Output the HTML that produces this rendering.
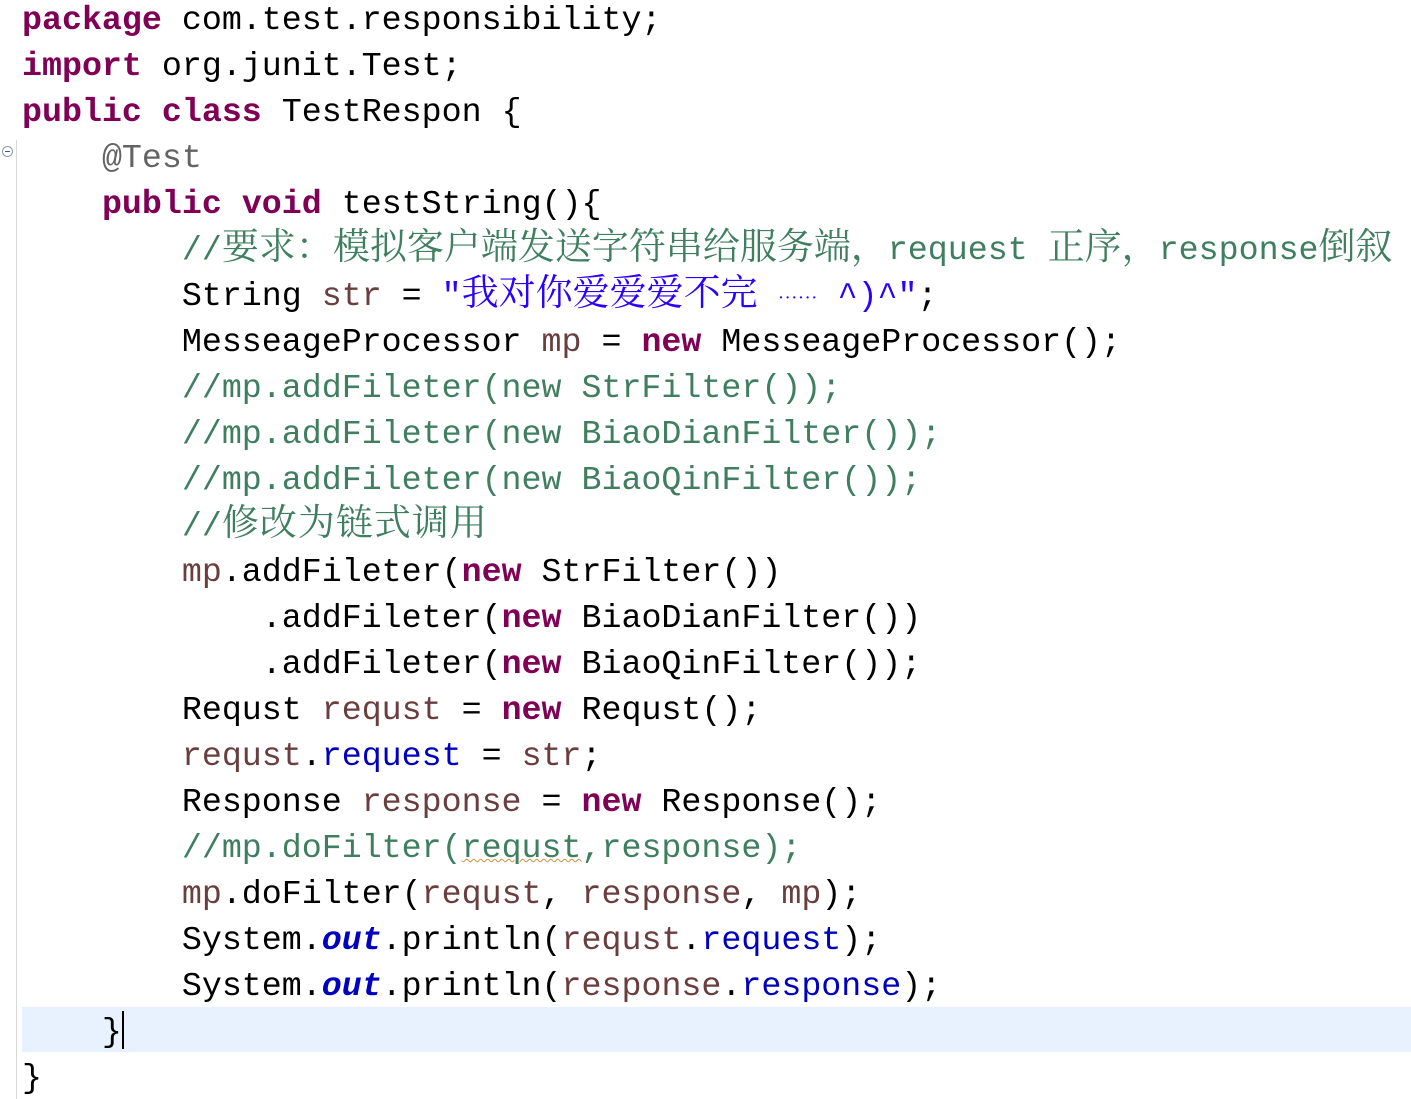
<!DOCTYPE html>
<html><head><meta charset="utf-8"><style>
html,body{margin:0;padding:0;background:#fff;width:1411px;height:1099px;overflow:hidden;position:relative}
.hl{position:absolute;left:22px;top:1007px;width:1389px;height:45px;background:#e8f2fe}
.gut{position:absolute;left:16px;top:140px;width:1px;height:959px;background:#d8d8d8}
.fold{position:absolute;left:2px;top:146px;width:11px;height:11px;border:1px solid #8a9ab0;border-radius:50%;background:#fff;box-sizing:border-box}
.fold:after{content:"";position:absolute;left:2px;top:4px;width:5px;height:1px;background:#556}
pre{position:absolute;left:22px;top:-3px;margin:0;font-family:"Liberation Mono",monospace;font-size:33.3px;line-height:46px;color:#000}
.k{color:#7f0055;font-weight:bold}
.c{color:#3f7f5f}
.s{color:#2a00ff}
.f{color:#0000c0}
.v{color:#6a3e3e}
.o{color:#0000c0;font-weight:bold;font-style:italic}
.a{color:#646464}
.z{font-family:"Noto Serif CJK SC","Noto Sans CJK SC",serif;font-size:37px;line-height:0}
.w{text-decoration:underline wavy #d09040;text-decoration-thickness:1px}
.cur{display:inline-block;width:2px;height:38px;background:#000;vertical-align:-8px}
</style></head><body>
<div class="hl"></div><div class="gut"></div><div class="fold"></div>
<pre><span class="k">package</span> com.test.responsibility;
<span class="k">import</span> org.junit.Test;
<span class="k">public</span> <span class="k">class</span> TestRespon {
    <span class="a">@Test</span>
    <span class="k">public</span> <span class="k">void</span> testString(){
        <span class="c">//<span class="z">要求：模拟客户端发送字符串给服务端，</span>request <span class="z">正序，</span>response<span class="z">倒叙</span></span>
        String <span class="v">str</span> = <span class="s">"<span class="z">我对你爱爱爱不完</span> <span class="z" style="font-size:20px">……</span> ^)^"</span>;
        MesseageProcessor <span class="v">mp</span> = <span class="k">new</span> MesseageProcessor();
        <span class="c">//mp.addFileter(new StrFilter());</span>
        <span class="c">//mp.addFileter(new BiaoDianFilter());</span>
        <span class="c">//mp.addFileter(new BiaoQinFilter());</span>
        <span class="c">//<span class="z" style="letter-spacing:1px">修改为链式调用</span></span>
        <span class="v">mp</span>.addFileter(<span class="k">new</span> StrFilter())
            .addFileter(<span class="k">new</span> BiaoDianFilter())
            .addFileter(<span class="k">new</span> BiaoQinFilter());
        Requst <span class="v">requst</span> = <span class="k">new</span> Requst();
        <span class="v">requst</span>.<span class="f">request</span> = <span class="v">str</span>;
        Response <span class="v">response</span> = <span class="k">new</span> Response();
        <span class="c">//mp.doFilter(<span class="w">requst</span>,response);</span>
        <span class="v">mp</span>.doFilter(<span class="v">requst</span>, <span class="v">response</span>, <span class="v">mp</span>);
        System.<span class="o">out</span>.println(<span class="v">requst</span>.<span class="f">request</span>);
        System.<span class="o">out</span>.println(<span class="v">response</span>.<span class="f">response</span>);
    }<span class="cur"></span>
}</pre>
</body></html>
